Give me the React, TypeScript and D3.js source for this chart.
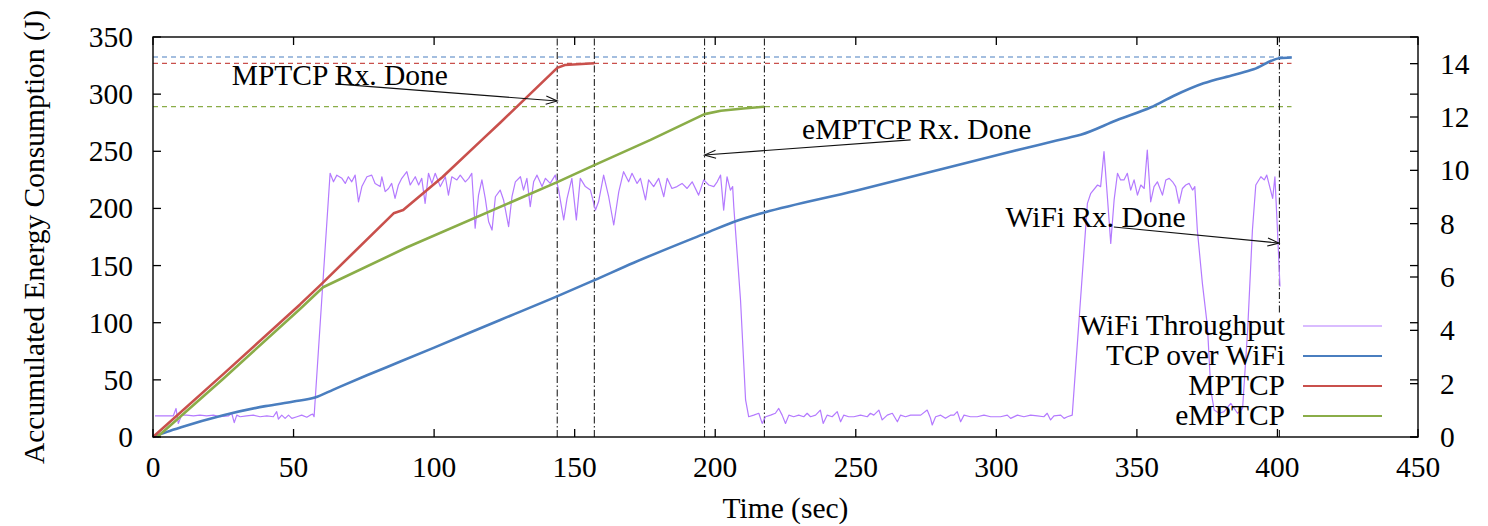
import React from "react";
import * as d3 from "d3";

// ---------- data ----------
const xTicks = [0, 50, 100, 150, 200, 250, 300, 350, 400, 450];
const yTicks = [0, 50, 100, 150, 200, 250, 300, 350];
const y2Ticks = [0, 2, 4, 6, 8, 10, 12, 14];

const tcpOverWifi: [number, number][] = [
  [0, 0], [5, 4.5], [10, 8.5], [25, 19], [40, 27], [50, 31], [57.6, 34.5], [64.2, 41.5], [76.1, 54],
  [88, 66], [99.8, 78], [123.5, 102.4], [143.7, 123], [156.8, 137], [171, 152.5], [196.5, 178.2],
  [208, 189.5], [212.5, 193], [217.5, 196.5], [250, 215.5], [280, 234], [301.5, 247.5], [315, 255.5],
  [325, 261.5], [330, 264.5], [343, 277.4], [355, 288.5], [363, 298.4], [373.7, 309.5],
  [384.4, 316.8], [391.5, 321.7], [400.7, 331.4], [405.1, 332],
];

const mptcp: [number, number][] = [
  [0, 0], [25, 55], [52.3, 116], [60, 134], [85.6, 195.7], [89, 198.6], [103, 227.5],
  [117, 260], [123.5, 275], [143.8, 323], [146.5, 325.5], [157, 327],
];

const emptcp: [number, number][] = [
  [1.5, 0], [25, 51], [52.3, 112], [60.5, 131], [90.4, 166], [143.8, 223], [156.6, 237.5],
  [177, 260], [196.2, 282.5], [202, 285.5], [210, 287.5], [217.5, 289],
];

const wifiThroughput: [number, number][] = [
  [0.7, 0.79], [2.5, 0.79], [4.9, 0.79], [7.2, 0.79], [8.2, 1.07], [9.0, 0.51], [10.2, 0.82],
  [12.0, 0.82], [14.4, 0.79], [16.7, 0.82], [19.1, 0.79], [21.5, 0.82], [23.9, 0.76], [26.8, 0.79],
  [28.0, 0.89], [28.9, 0.54], [29.8, 0.82], [31.0, 0.76], [33.3, 0.79], [35.7, 0.82], [38.1, 0.76],
  [40.5, 0.79], [42.8, 0.76], [44.0, 0.95], [44.6, 0.67], [45.8, 0.82], [47.0, 0.70], [48.2, 0.82],
  [49.4, 0.70], [51.2, 0.76], [52.9, 0.82], [54.7, 0.74], [55.9, 0.82], [56.8, 0.86], [57.3, 0.76],
  [60.0, 5.1], [63.0, 9.89], [64.2, 9.57], [65.4, 9.82], [67.2, 9.70], [68.4, 9.51], [69.5, 9.76],
  [70.7, 9.57], [71.9, 9.82], [73.1, 8.82], [74.3, 9.39], [76.1, 9.76], [77.8, 9.82], [79.0, 9.51],
  [80.8, 9.39], [81.4, 9.76], [82.6, 9.20], [83.8, 9.32], [84.9, 9.51], [86.1, 8.95], [87.3, 9.45],
  [88.5, 9.70], [90.3, 9.95], [91.5, 9.45], [93.3, 9.76], [94.5, 9.45], [95.6, 9.70], [96.8, 8.76],
  [98.0, 9.89], [99.2, 9.51], [100.4, 9.89], [102.2, 9.39], [104.0, 9.76], [105.1, 9.07],
  [106.3, 9.76], [108.1, 9.64], [109.3, 9.82], [111.1, 9.57], [112.3, 9.70], [113.4, 9.89],
  [114.6, 7.83], [115.8, 9.07], [117.0, 9.64], [118.2, 8.95], [119.4, 8.07], [120.6, 7.76],
  [121.8, 9.01], [123.5, 9.26], [124.7, 8.89], [126.5, 7.89], [127.7, 9.01], [128.9, 9.57],
  [130.7, 9.76], [131.8, 9.26], [133.0, 9.70], [134.2, 8.64], [135.4, 9.57], [136.6, 9.82],
  [138.4, 9.39], [139.6, 9.70], [141.3, 9.51], [143.1, 9.82], [144.3, 9.26], [146.1, 8.14],
  [147.3, 8.95], [149.0, 9.70], [150.6, 8.14], [152.0, 9.70], [153.8, 9.39], [155.6, 9.26],
  [157.4, 8.51], [158.5, 8.82], [160.3, 9.82], [162.1, 9.01], [163.9, 7.95], [165.7, 9.20],
  [167.4, 9.95], [169.2, 9.57], [170.4, 9.89], [172.2, 9.51], [173.4, 9.70], [175.2, 8.89],
  [176.3, 9.64], [178.1, 9.39], [179.9, 9.70], [181.7, 9.01], [182.9, 9.70], [184.6, 9.32],
  [186.4, 9.39], [188.2, 9.51], [190.0, 9.32], [191.8, 9.57], [194.1, 9.07], [195.9, 9.64],
  [197.7, 9.45], [199.5, 9.39], [200.7, 9.57], [201.9, 9.82], [203.0, 8.51], [204.2, 9.76],
  [205.4, 9.26], [206.2, 9.39], [206.6, 8.64], [209.0, 5.14], [210.8, 1.39], [211.9, 0.76],
  [213.7, 0.82], [215.5, 0.89], [216.7, 0.51], [217.9, 0.76], [219.7, 0.82], [221.4, 0.89],
  [222.6, 1.07], [223.8, 0.82], [225.0, 0.51], [226.2, 0.82], [227.9, 0.76], [229.7, 0.82],
  [231.5, 0.76], [232.7, 0.89], [233.9, 0.76], [235.7, 0.82], [237.4, 1.01], [238.4, 0.51],
  [239.8, 0.82], [241.6, 0.76], [243.4, 0.95], [244.6, 0.57], [245.7, 0.82], [247.5, 0.76],
  [249.3, 0.76], [251.7, 0.82], [254.1, 0.76], [255.2, 0.89], [256.4, 0.82], [258.2, 1.01],
  [259.4, 0.64], [261.2, 0.82], [263.0, 0.89], [264.8, 0.57], [265.9, 0.82], [267.7, 0.76],
  [269.5, 0.82], [271.3, 0.82], [273.1, 0.82], [275.4, 1.01], [276.6, 0.70], [277.2, 0.45],
  [278.4, 0.76], [280.2, 0.82], [281.9, 0.70], [283.7, 0.82], [284.9, 0.82], [286.1, 0.95],
  [287.3, 0.57], [288.5, 0.82], [290.8, 0.76], [293.2, 0.76], [295.6, 0.82], [298.0, 0.76],
  [301.5, 0.76], [303.9, 0.82], [305.1, 0.70], [307.5, 0.82], [309.8, 0.76], [312.2, 0.82],
  [314.6, 0.79], [316.9, 0.76], [318.1, 0.89], [319.3, 0.64], [320.5, 0.79], [322.9, 0.82],
  [324.1, 0.70], [325.3, 0.76], [327.0, 0.82], [332.4, 8.76], [333.6, 9.14], [336.0, 9.45],
  [337.1, 9.39], [338.3, 10.70], [339.5, 9.01], [340.7, 7.26], [341.9, 8.89], [343.1, 9.89],
  [344.2, 9.64], [345.4, 9.64], [346.6, 9.89], [347.8, 9.26], [349.0, 9.64], [350.2, 9.07],
  [351.4, 9.45], [352.6, 9.32], [353.7, 10.76], [354.9, 8.82], [356.1, 9.39], [357.3, 9.57],
  [359.1, 9.07], [360.3, 9.64], [361.5, 9.70], [362.7, 9.57], [363.8, 9.39], [365.0, 8.76],
  [366.2, 9.32], [367.4, 9.45], [368.6, 9.51], [369.8, 9.26], [370.6, 9.39], [371.5, 7.76],
  [373.3, 5.76], [375.1, 4.14], [376.3, 1.76], [377.5, 1.01], [379.3, 0.89], [381.0, 0.95],
  [383.4, 1.26], [385.8, 0.89], [387.6, 1.07], [389.4, 4.01], [391.1, 7.76], [392.3, 9.45],
  [394.1, 9.76], [395.3, 9.64], [396.2, 9.82], [397.4, 9.32], [398.3, 8.95], [399.1, 9.76],
  [400.0, 7.76], [400.9, 5.64],
];

// final energy levels (dashed reference lines)
const finalLevels = [
  { value: 332.5, color: "#4a7ebf" },
  { value: 327, color: "#c9504c" },
  { value: 289, color: "#8aad48" },
];
const finalLevelEnd = 405;

// reception-done instants (vertical dash-dot lines)
const doneTimes = [143.8, 157, 196.2, 217.5, 400.7];

const annotations = [
  { label: "MPTCP Rx. Done", at: [28, 308], from: [64.8, 309], to: [143.8, 294] },
  { label: "eMPTCP Rx. Done", at: [230.9, 260.7], from: [269.5, 260], to: [196.2, 246.7] },
  { label: "WiFi Rx. Done", at: [303.3, 184], from: [341.8, 183.7], to: [400.5, 169.7] },
];

const seriesInfo = [
  { name: "WiFi Throughput", color: "#b47aff", width: 1.2 },
  { name: "TCP over WiFi", color: "#4a7ebf", width: 2.6 },
  { name: "MPTCP", color: "#c9504c", width: 2.6 },
  { name: "eMPTCP", color: "#8aad48", width: 2.6 },
];

// ---------- layout ----------
const W = 1488;
const H = 526;
const L = 153, R = 1418, T = 37, B = 437;
const FONT = "'Liberation Serif', 'Times New Roman', Times, serif";
const FS = 29.5;

export default function App() {
  const x = d3.scaleLinear().domain([0, 450]).range([L, R]);
  const y = d3.scaleLinear().domain([0, 350]).range([B, T]);
  const y2 = d3.scaleLinear().domain([0, 15]).range([B, T]);

  const lineY = d3.line<[number, number]>().x((d) => x(d[0])).y((d) => y(d[1]));
  const smoothY = d3
    .line<[number, number]>()
    .x((d) => x(d[0]))
    .y((d) => y(d[1]))
    .curve(d3.curveMonotoneX);
  const lineY2 = d3.line<[number, number]>().x((d) => x(d[0])).y((d) => y2(d[1]));

  const arrowHead = (x1: number, y1: number, x2: number, y2p: number) => {
    const a = Math.atan2(y2p - y1, x2 - x1);
    const len = 12, sp = (20 * Math.PI) / 180;
    const p1 = [x2 - len * Math.cos(a - sp), y2p - len * Math.sin(a - sp)];
    const p2 = [x2 - len * Math.cos(a + sp), y2p - len * Math.sin(a + sp)];
    return `M${p1[0]},${p1[1]}L${x2},${y2p}L${p2[0]},${p2[1]}`;
  };

  const paths = [
    lineY2(wifiThroughput),
    smoothY(tcpOverWifi),
    lineY(mptcp),
    lineY(emptcp),
  ];

  return (
    <svg
      width={W}
      height={H}
      style={{ position: "absolute", left: 0, top: 0, background: "#fff" }}
      fontFamily={FONT}
    >
      <rect x={0} y={0} width={W} height={H} fill="#fff" />

      {/* dashed final-level lines */}
      {finalLevels.map((f, i) => (
        <line
          key={"f" + i}
          x1={x(0)}
          x2={x(finalLevelEnd)}
          y1={y(f.value)}
          y2={y(f.value)}
          stroke={f.color}
          strokeWidth={1.2}
          strokeDasharray="5,4"
        />
      ))}

      {/* vertical dash-dot lines */}
      {doneTimes.map((t, i) => {
        const segs = i === doneTimes.length - 1 ? [[0, 8], [109, 350]] : [[0, 350]];
        return segs.map((s, j) => (
          <line
            key={"v" + i + "-" + j}
            x1={x(t)}
            x2={x(t)}
            y1={y(s[0])}
            y2={y(s[1])}
            stroke="#222"
            strokeWidth={1.1}
            strokeDasharray="7,2.5,1.5,2.5"
          />
        ));
      })}

      {/* series */}
      {paths.map((d, k) => (
        <path
          key={"s" + k}
          d={d || ""}
          fill="none"
          stroke={seriesInfo[k].color}
          strokeWidth={seriesInfo[k].width}
          strokeLinejoin="round"
        />
      ))}

      {/* annotations */}
      {annotations.map((a, i) => {
        const x1 = x(a.from[0]), y1 = y(a.from[1]), x2 = x(a.to[0]), yy2 = y(a.to[1]);
        return (
          <g key={"a" + i}>
            <line x1={x1} y1={y1} x2={x2} y2={yy2} stroke="#111" strokeWidth={1.1} />
            <path d={arrowHead(x1, y1, x2, yy2)} fill="none" stroke="#111" strokeWidth={1.1} />
            <text x={x(a.at[0])} y={y(a.at[1])} fontSize={FS} fill="#000">
              {a.label}
            </text>
          </g>
        );
      })}

      {/* frame */}
      <rect x={L} y={T} width={R - L} height={B - T} fill="none" stroke="#000" strokeWidth={1.4} />

      {/* left axis ticks + mirror */}
      {yTicks.map((v) => (
        <g key={"y" + v}>
          <line x1={L} x2={L + 8} y1={y(v)} y2={y(v)} stroke="#000" strokeWidth={1.3} />
          <line x1={R} x2={R - 8} y1={y(v)} y2={y(v)} stroke="#000" strokeWidth={1.3} />
          <text x={L - 20} y={y(v)} fontSize={FS} textAnchor="end" dominantBaseline="central" fill="#000">
            {v}
          </text>
        </g>
      ))}

      {/* right axis */}
      {y2Ticks.map((v) => (
        <g key={"y2" + v}>
          <line x1={R} x2={R - 8} y1={y2(v)} y2={y2(v)} stroke="#000" strokeWidth={1.3} />
          <text x={R + 22} y={y2(v)} fontSize={FS} textAnchor="start" dominantBaseline="central" fill="#000">
            {v}
          </text>
        </g>
      ))}

      {/* x ticks */}
      {xTicks.map((v) => (
        <g key={"x" + v}>
          <line x1={x(v)} x2={x(v)} y1={B} y2={B - 8} stroke="#000" strokeWidth={1.3} />
          <line x1={x(v)} x2={x(v)} y1={T} y2={T + 8} stroke="#000" strokeWidth={1.3} />
          <text x={x(v)} y={B + 30} fontSize={FS} textAnchor="middle" dominantBaseline="central" fill="#000">
            {v}
          </text>
        </g>
      ))}

      {/* axis titles */}
      <text x={(L + R) / 2} y={518} fontSize={FS} textAnchor="middle" fill="#000">
        Time (sec)
      </text>
      <text
        transform={`translate(43.5, ${(T + B) / 2}) rotate(-90)`}
        fontSize={FS}
        textAnchor="middle"
        fill="#000"
      >
        Accumulated Energy Consumption (J)
      </text>

      {/* legend */}
      {seriesInfo.map((s, i) => {
        const by = 335 + i * 30;
        return (
          <g key={"l" + i}>
            <text x={1285} y={by} fontSize={FS} textAnchor="end" fill="#000">
              {s.name}
            </text>
            <line x1={1303} x2={1382} y1={by - 9} y2={by - 9} stroke={s.color} strokeWidth={i === 0 ? 1.2 : 2.2} />
          </g>
        );
      })}
    </svg>
  );
}
